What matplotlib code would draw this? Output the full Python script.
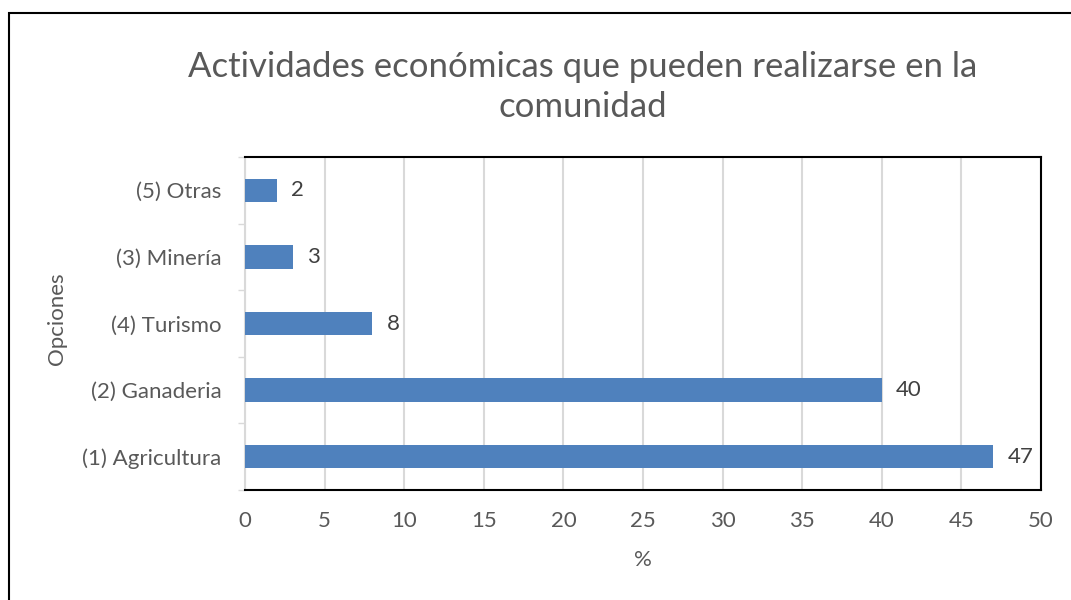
import matplotlib.pyplot as plt
from matplotlib.patches import Rectangle

# data, bottom to top as drawn
categorias = ["(1) Agricultura", "(2) Ganaderia", "(4) Turismo", "(3) Minería", "(5) Otras"]
porcentajes = [47, 40, 8, 3, 2]
xticks = [0, 5, 10, 15, 20, 25, 30, 35, 40, 45, 50]

texto = "#595959"
azul = "#4F81BD"

plt.rcParams['font.family'] = ['Lato', 'DejaVu Sans']

fig = plt.figure(figsize=(10.71, 6), dpi=100)
ax = fig.add_axes([245/1071, 110/600, 796/1071, 333/600])

ypos = list(range(len(categorias)))
ax.barh(ypos, porcentajes, height=0.35, color=azul, zorder=3)
for y, v in zip(ypos, porcentajes):
    ax.text(v + 0.9, y, str(v), va="center", ha="left", fontsize=16, color="#404040")

ax.set_xlim(0, 50)
ax.set_ylim(-0.5, len(categorias) - 0.5)
ax.set_xticks(xticks)
ax.set_xticklabels([str(t) for t in xticks])
ax.set_yticks(ypos)
ax.set_yticklabels(categorias)
ax.set_yticks([i - 0.5 for i in range(len(categorias) + 1)], minor=True)
ax.grid(axis="x", color="#D9D9D9", linewidth=1.5, zorder=0)

ax.tick_params(axis="x", length=0, pad=15, labelsize=16, labelcolor=texto)
ax.tick_params(axis="y", which="major", length=0, pad=17, labelsize=16, labelcolor=texto)
ax.tick_params(axis="y", which="minor", length=5, width=1, color="#D9D9D9")

for s in ["top", "right", "bottom"]:
    ax.spines[s].set_color("black")
    ax.spines[s].set_linewidth(1.5)
ax.spines["left"].set_color("#D9D9D9")
ax.spines["left"].set_linewidth(1.5)

ax.set_xlabel("%", fontsize=16, color=texto, labelpad=14)
ax.set_ylabel("Opciones", fontsize=16, color=texto)
ax.yaxis.set_label_coords(-0.2236, 0.513)

fig.text(583/1071, 1 - 87/600, "Actividades económicas que pueden realizarse en la\ncomunidad",
         ha="center", va="center", fontsize=25, color=texto, linespacing=1.3)

# outer chart frame
fig.patches.append(Rectangle((8.5/1071, -0.05), 1.1, 1 - 12.5/600 + 0.05,
                             transform=fig.transFigure, fill=False,
                             edgecolor="black", linewidth=1.5))

fig.savefig("out.png", dpi=100)
